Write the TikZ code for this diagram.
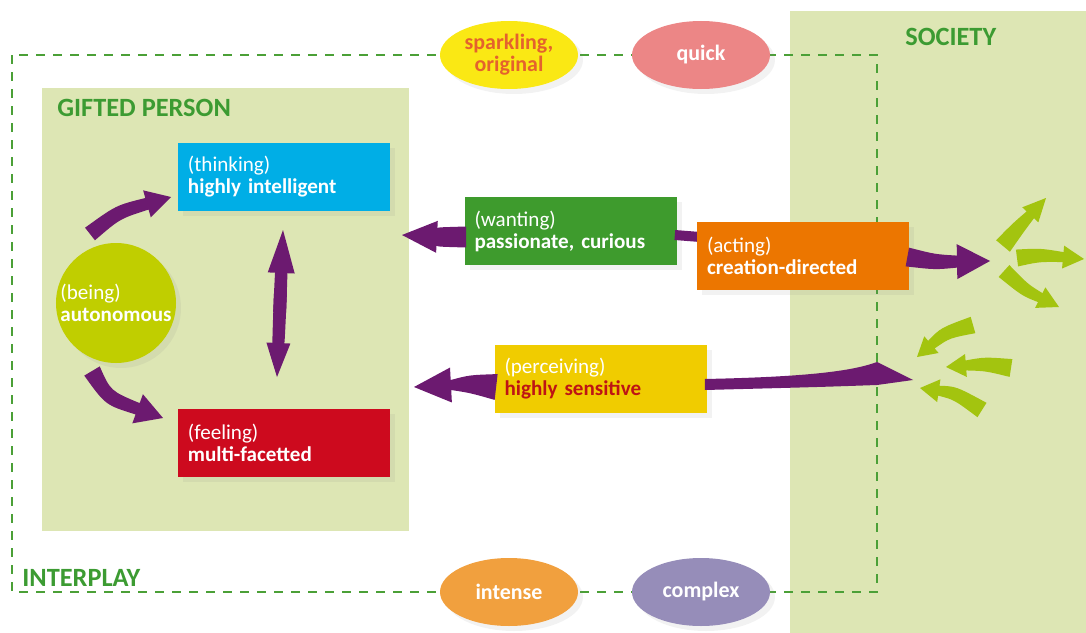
\documentclass[tikz,border=0pt]{standalone}
\usepackage{fontspec}
\setmainfont{Carlito}
\usetikzlibrary{positioning,calc,shapes.geometric,shadows}

\definecolor{panel}{RGB}{221,230,180}
\definecolor{dashgreen}{RGB}{75,160,55}
\definecolor{titlegreen}{RGB}{60,155,50}
\definecolor{arrowpurple}{RGB}{108,26,112}
\definecolor{lime}{RGB}{163,196,15}
\definecolor{thinkblue}{RGB}{0,174,230}
\definecolor{feelred}{RGB}{205,10,30}
\definecolor{wantgreen}{RGB}{62,155,45}
\definecolor{actorange}{RGB}{236,118,0}
\definecolor{perceiveyellow}{RGB}{240,204,0}
\definecolor{beinglime}{RGB}{192,206,0}
\definecolor{sparkyellow}{RGB}{250,232,20}
\definecolor{sparktext}{RGB}{228,98,45}
\definecolor{quickpink}{RGB}{236,134,134}
\definecolor{intenseorange}{RGB}{241,160,62}
\definecolor{complexpurple}{RGB}{150,141,185}
\definecolor{sensitivered}{RGB}{190,20,20}

% #1 colour, #2 tail, #3 bend, #4 tip, #5 tail width, #6 neck width, #7 head width, #8 head length
\newcommand{\fatarrow}[8]{%
  \path ($(#4)!#8!(#3)$) coordinate (neck);
  \fill[#1] ($(#2)!#5!90:(#3)$) .. controls ($(#3)!{(#5+#6)/2}!90:(#4)$) .. ($(neck)!#6!90:(#4)$)
    -- ($(neck)!#7!90:(#4)$) -- (#4) -- ($(neck)!#7!-90:(#4)$) -- ($(neck)!#6!-90:(#4)$)
    .. controls ($(#3)!{(#5+#6)/2}!-90:(#4)$) .. ($(#2)!#5!-90:(#3)$) -- cycle;}

\tikzset{
  shade/.style={drop shadow={opacity=0.1, shadow xshift=1mm, shadow yshift=-1mm}},
  box/.style={rectangle, minimum width=42.4mm, minimum height=13.6mm, text width=38.4mm,
    inner xsep=2mm, align=left, text=white, font=\fontsize{12}{12.5}\selectfont, shade},
  blob/.style={ellipse, minimum width=27.6mm, minimum height=13.6mm, inner sep=0pt,
    text=white, align=center, font=\bfseries\fontsize{12.5}{12.5}\selectfont, shade},
  title/.style={anchor=base west, inner sep=0pt, text=titlegreen, font=\bfseries\fontsize{15}{15}\selectfont},
  interplayline/.style={draw=dashgreen, line width=1.1pt, dash pattern=on 1.8mm off 1.6mm}
}

\begin{document}
\begin{tikzpicture}[x=0.2mm, y=-0.2mm]
  \useasboundingbox (0,0) rectangle (1086,633);
  \fill[panel] (790,11) rectangle (1086,633);
  \fill[panel] (42,88) rectangle (409,531);
  \draw[interplayline] (12,55) rectangle (877,592);

  \node[title] (gifted) at (57,117) {GIFTED PERSON};
  \node[title] (society) at (905,45) {SOCIETY};
  \node[title] (interplay) at (22,586) {INTERPLAY};

  \node[box, fill=thinkblue] (thinking) at (284,177) {(thinking)\\\textbf{highly intelligent}};
  \node[box, fill=feelred, below=39.4mm of thinking] (feeling) {(feeling)\\\textbf{multi-facetted}};
  \node[box, fill=wantgreen] (wanting) at (570.5,231) {(wanting)\\\textbf{passionate, curious}};
  \node[box, fill=perceiveyellow] (perceiving) at (600.5,379) {(perceiving)\\\textbf{\color{sensitivered}highly sensitive}};
  \node[circle, fill=beinglime, minimum size=24mm, inner sep=0pt, align=left, text=white,
    font=\fontsize{12}{12.5}\selectfont, shade] (being) at (116,303) {(being)\\\textbf{autonomous}};

  \coordinate (wantout) at ($(wanting.west)+(2,6)$);
  \coordinate (percout) at ($(perceiving.west)+(2,8)$);
  \coordinate (actin) at (700,237);

  \fatarrow{arrowpurple}{90,234}{118,212}{171,197}{1.6mm}{1.2mm}{2.8mm}{5mm}
  \fatarrow{arrowpurple}{92,371}{108,398}{163,418}{1.8mm}{1.2mm}{3.1mm}{5.4mm}
  \fatarrow{arrowpurple}{279.65,312}{281.3,271}{283,230}{1.3mm}{1.2mm}{2.7mm}{8.6mm}
  \fatarrow{arrowpurple}{280.39,294}{278.7,336}{277,377}{1.3mm}{1.2mm}{2.4mm}{6.8mm}
  \fatarrow{arrowpurple}{wantout}{440,237}{402,235}{2.1mm}{1.8mm}{3.2mm}{7mm}
  \fatarrow{arrowpurple}{percout}{470,384}{414,387}{2.6mm}{1mm}{3.5mm}{7.4mm}
  \draw[arrowpurple, line width=2mm] ($(wanting.east)+(-2,4)$) -- (actin);

  \node[box, fill=actorange] (acting) at (803,256) {(acting)\\\textbf{creation-directed}};
  \coordinate (actout) at ($(acting.east)+(-2,1)$);
  \fatarrow{arrowpurple}{actout}{935,262}{990,261}{1.9mm}{1.2mm}{3.5mm}{6.6mm}
  \fill[arrowpurple] ($(perceiving.east)+(-2,0)$) .. controls (800,377) and (850,372) .. (877,362)
    -- (913,380) -- (877,385) .. controls (820,387) .. ($(perceiving.east)+(-2,11)$) -- cycle;

  \fatarrow{lime}{1003,246}{1018,228}{1046,198}{1.8mm}{1mm}{2.2mm}{4.6mm}
  \fatarrow{lime}{1017,258}{1040,255}{1084,259}{1.7mm}{1mm}{2.3mm}{4.2mm}
  \fatarrow{lime}{1004,271}{1025,290}{1059,307}{1.6mm}{1mm}{2.3mm}{4.2mm}
  \fatarrow{lime}{973,325}{945,333}{917,357}{1.7mm}{1mm}{2.2mm}{3.8mm}
  \fatarrow{lime}{1011,368}{985,364}{946,367}{1.8mm}{1mm}{2.3mm}{4mm}
  \fatarrow{lime}{982,410}{955,393}{920,388}{1.7mm}{1mm}{2.3mm}{3.8mm}

  \node[blob, fill=sparkyellow, text=sparktext] (sparkling) at (509,55) {sparkling,\\original};
  \node[blob, fill=quickpink] (quick) at (701,55) {quick};
  \node[blob, fill=intenseorange] (intense) at (509,592) {intense};
  \node[blob, fill=complexpurple] (complex) at (701,592) {complex};
\end{tikzpicture}
\end{document}
